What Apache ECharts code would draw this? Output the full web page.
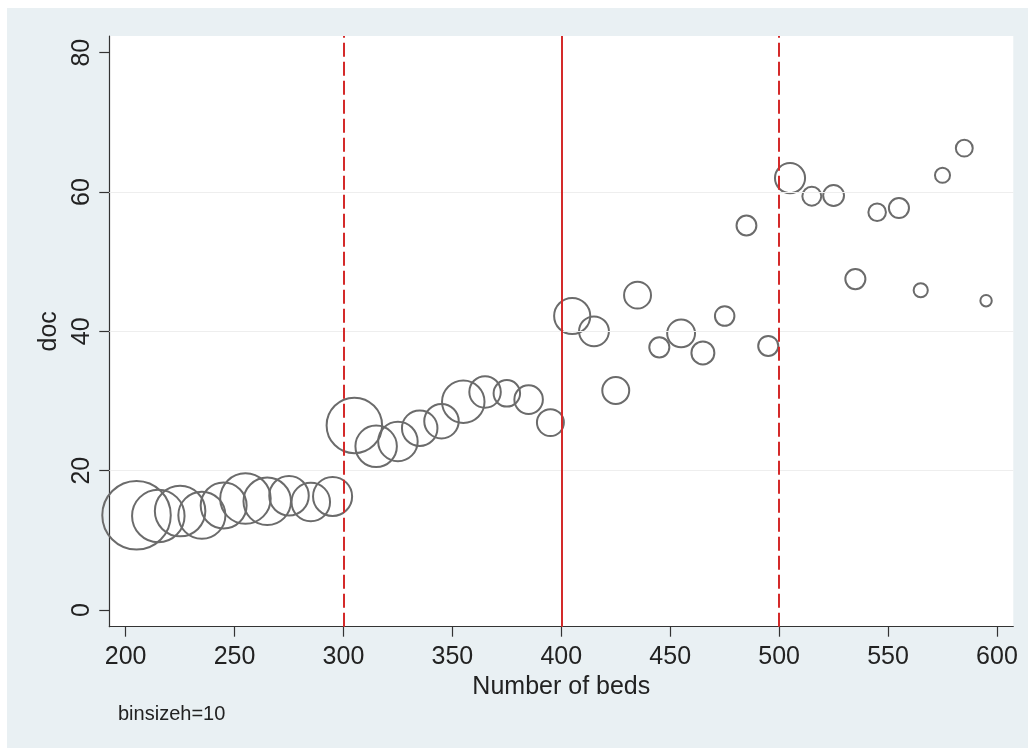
<!DOCTYPE html>
<html>
<head>
<meta charset="utf-8">
<script src="https://cdn.jsdelivr.net/npm/echarts@6/dist/echarts.min.js"></script>
<style>
html,body{margin:0;padding:0;background:#ffffff;}
#c{width:1031px;height:752px;}
</style>
</head>
<body>
<div id="c"></div>
<script>
// bin midpoints (Number of beds)
const beds = [205,215,225,235,245,255,265,275,285,295,
              305,315,325,335,345,355,365,375,385,395,
              405,415,425,435,445,455,465,475,485,495,
              505,515,525,535,545,555,565,575,585,595];
// mean doc per bin
const doc = [13.6,13.5,14.2,13.6,15.0,16.0,15.6,16.4,15.5,16.3,
             26.5,23.5,24.2,26.1,27.1,29.9,31.3,31.1,30.2,26.9,
             42.2,40.0,31.5,45.2,37.7,39.7,36.9,42.2,55.2,37.9,
             62.0,59.4,59.5,47.5,57.1,57.7,45.9,62.4,66.3,44.4];
// relative frequency (bubble weight) per bin
const freq = [100,59.5,55.2,48.2,45.9,55.2,49,34.3,32.7,33.6,
              66.3,37.7,34.3,27.9,26.4,39.5,22.2,16,18.4,16.5,
              28.9,20.1,16.5,16.5,9.5,17.6,12.2,9,9.3,9.5,
              20.4,8.5,10.2,9.5,7.4,9.5,5,5.6,6.9,3.4];
const xTicks = [200,250,300,350,400,450,500,550,600];
const yTicks = [0,20,40,60,80];
const yGrid = [20,40,60];
const cutoffs = [300,400,500];
const cutoffStyle = ['dashed','solid','dashed'];

const points = beds.map((b,i)=>[b, doc[i], freq[i]]);

const chart = echarts.init(document.getElementById('c'), null, {renderer:'canvas'});
const font = 'Liberation Sans, Arial, Helvetica, sans-serif';
chart.setOption({
  animation:false,
  backgroundColor:'#ffffff',
  graphic:[
    {type:'rect', z:-10, shape:{x:7,y:8,width:1021,height:740}, style:{fill:'#e9f0f3'}, silent:true},
    {type:'text', left:118, top:704, style:{text:'binsizeh=10', fontSize:20, fontFamily:font, fill:'#222'}}
  ],
  grid:{left:109.3, right:17.7, top:36, bottom:125.3, show:true, backgroundColor:'#ffffff', borderWidth:0, containLabel:false},
  xAxis:{
    type:'value', min:192.5, max:607.5,
    name:'Number of beds', nameLocation:'middle', nameGap:43,
    nameTextStyle:{fontSize:25, color:'#222', fontFamily:font},
    axisLine:{show:true, onZero:false, lineStyle:{color:'#333', width:1.2}},
    axisTick:{show:true, length:10, lineStyle:{color:'#333', width:1.2}, customValues:xTicks},
    axisLabel:{fontSize:25, color:'#222', fontFamily:font, margin:18, customValues:xTicks},
    splitLine:{show:false}
  },
  yAxis:{
    type:'value', min:-2.4, max:82.4,
    name:'doc', nameLocation:'middle', nameGap:46,
    nameTextStyle:{fontSize:25, color:'#222', fontFamily:font},
    axisLine:{show:true, onZero:false, lineStyle:{color:'#333', width:1.2}},
    axisTick:{show:true, length:10, lineStyle:{color:'#333', width:1.2}, customValues:yTicks},
    axisLabel:{fontSize:25, color:'#222', fontFamily:font, rotate:90, margin:15, customValues:yTicks},
    splitLine:{show:false}
  },
  series:[
    {
      type:'scatter', silent:true, z:1, data:[],
      markLine:{
        silent:true, symbol:['none','none'], label:{show:false},
        lineStyle:{color:'#eeeeee', width:1, type:'solid'},
        data: yGrid.map(v=>({yAxis:v}))
      }
    },
    {
      type:'scatter', silent:true, z:2, data:[],
      markLine:{
        silent:true, symbol:['none','none'], label:{show:false},
        data: cutoffs.map((v,i)=>({xAxis:v, lineStyle:{color:'#d42a2a', width:2, type: cutoffStyle[i]==='dashed'?[14,5]:'solid'}}))
      }
    },
    {
      type:'scatter', clip:false, silent:true, z:3,
      symbol:'circle',
      symbolSize: v => 7*Math.sqrt(v[2]) - 1.5,
      itemStyle:{color:'rgba(0,0,0,0)', borderColor:'#6b6b6b', borderWidth:2, opacity:1},
      emphasis:{disabled:true},
      data: points
    }
  ]
});
</script>
</body>
</html>
